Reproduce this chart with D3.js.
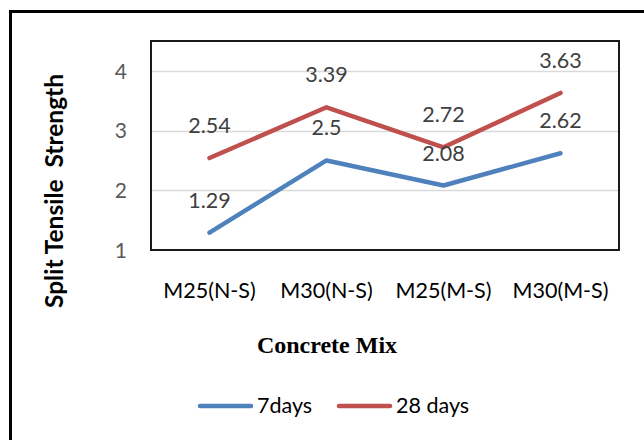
<!DOCTYPE html>
<html>
<head>
<meta charset="utf-8">
<script src="https://cdn.jsdelivr.net/npm/d3@7"></script>
<style>
  html, body { margin: 0; padding: 0; background: #fff; }
  svg { display: block; }
  text { font-family: Lato, "Open Sans", sans-serif; }
</style>
</head>
<body>
<svg id="chart" width="644" height="440"></svg>
<script>
// Split tensile strength by concrete mix
const categories = ["M25(N-S)", "M30(N-S)", "M25(M-S)", "M30(M-S)"];
const seriesNames = ["7days", "28 days"];
const days7 = [1.29, 2.5, 2.08, 2.62];
const days28 = [2.54, 3.39, 2.72, 3.63];
const yTicks = [1, 2, 3, 4];
const yTitle = "Split Tensile  Strength";
const xTitle = "Concrete Mix";

const series = [
  { name: seriesNames[0], values: days7, color: "#4F81BD" },
  { name: seriesNames[1], values: days28, color: "#C0504D" }
];

const W = 644, H = 440;
const plot = { left: 151, top: 41, right: 619, bottom: 250 };

const svg = d3.select("#chart");

// Outer chart frame (runs off the right and bottom edges)
svg.append("rect")
  .attr("x", 10.5).attr("y", 11.5)
  .attr("width", W + 10).attr("height", H + 10)
  .attr("fill", "none").attr("stroke", "#000").attr("stroke-width", 3);

const x = d3.scaleBand().domain(categories).range([plot.left, plot.right]);
const y = d3.scaleLinear().domain([1, 4.5]).range([plot.bottom, plot.top]);

// Gridlines
svg.append("g")
  .selectAll("line")
  .data(yTicks.filter(t => t > 1))
  .join("line")
  .attr("x1", plot.left).attr("x2", plot.right)
  .attr("y1", d => Math.round(y(d)) + 0.5).attr("y2", d => Math.round(y(d)) + 0.5)
  .attr("stroke", "#d9d9d9").attr("stroke-width", 1.3);

// Y axis tick labels
const yAxis = d3.axisLeft(y).tickValues(yTicks).tickSize(0).tickPadding(24)
  .tickFormat(d3.format("d"));
const gy = svg.append("g").attr("transform", `translate(${plot.left},0)`).call(yAxis);
gy.select(".domain").remove();
gy.selectAll("text")
  .attr("fill", "#595959")
  .style("font-size", "21px")
  .attr("dy", "0.35em");

// X axis category labels
const xAxis = d3.axisBottom(x).tickSize(0).tickPadding(0);
const gx = svg.append("g").attr("transform", `translate(0,${plot.bottom})`).call(xAxis);
gx.select(".domain").remove();
gx.selectAll("text")
  .attr("fill", "#000")
  .attr("y", 48).attr("dy", 0)
  .style("font-size", "21.5px");

// Plot area border
svg.append("rect")
  .attr("x", plot.left).attr("y", plot.top)
  .attr("width", plot.right - plot.left).attr("height", plot.bottom - plot.top)
  .attr("fill", "none").attr("stroke", "#1a1a1a").attr("stroke-width", 2);

// Lines
const line = d3.line()
  .x((d, i) => x(categories[i]) + x.bandwidth() / 2)
  .y(d => y(d));

svg.append("g")
  .selectAll("path")
  .data(series)
  .join("path")
  .attr("d", d => line(d.values))
  .attr("fill", "none")
  .attr("stroke", d => d.color)
  .attr("stroke-width", 4.5)
  .attr("stroke-linecap", "round")
  .attr("stroke-linejoin", "round");

// Value labels above each point
series.forEach(s => {
  svg.append("g")
    .selectAll("text")
    .data(s.values)
    .join("text")
    .attr("x", (d, i) => x(categories[i]) + x.bandwidth() / 2)
    .attr("y", d => y(d) - 25)
    .attr("text-anchor", "middle")
    .attr("fill", "#404040")
    .style("font-size", "21.5px")
    .text(d => d);
});

// Axis titles
svg.append("text")
  .attr("transform", "translate(63,191) rotate(-90)")
  .attr("text-anchor", "middle")
  .style("font-size", "24.5px").style("font-weight", "bold")
  .style("white-space", "pre")
  .attr("fill", "#000")
  .text(yTitle);

svg.append("text")
  .attr("x", 327).attr("y", 353)
  .attr("text-anchor", "middle")
  .style("font-family", "'Liberation Serif', 'Times New Roman', serif")
  .style("font-size", "24px").style("font-weight", "bold")
  .attr("fill", "#000")
  .text(xTitle);

// Legend
const legend = svg.append("g");
const legendItems = [
  { x0: 198, s: series[0] },
  { x0: 337, s: series[1] }
];
legendItems.forEach(item => {
  legend.append("line")
    .attr("x1", item.x0 + 2).attr("x2", item.x0 + 53)
    .attr("y1", 406).attr("y2", 406)
    .attr("stroke", item.s.color).attr("stroke-width", 4.5)
    .attr("stroke-linecap", "round");
  legend.append("text")
    .attr("x", item.x0 + 59).attr("y", 413)
    .attr("fill", "#000")
    .style("font-size", "21.5px")
    .text(item.s.name);
});
</script>
</body>
</html>
